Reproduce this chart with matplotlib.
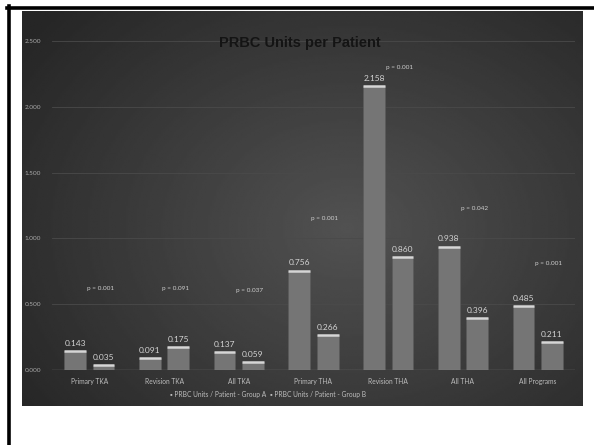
import numpy as np
import matplotlib.pyplot as plt
from matplotlib.lines import Line2D

categories = ['Primary TKA', 'Revision TKA', 'All TKA', 'Primary THA',
              'Revision THA', 'All THA', 'All Programs']
group_a = [0.143, 0.091, 0.137, 0.756, 2.158, 0.938, 0.485]
group_b = [0.035, 0.175, 0.059, 0.266, 0.860, 0.396, 0.211]
p_values = ['p = 0.001', 'p = 0.091', 'p = 0.037', 'p = 0.001',
            'p = 0.001', 'p = 0.042', 'p = 0.001']
# height (in data units) where each p label sits
p_heights = [0.62, 0.62, 0.605, 1.15, 2.295, 1.225, 0.81]
y_ticks = [0.0, 0.5, 1.0, 1.5, 2.0, 2.5]

W, H = 594, 445
fig = plt.figure(figsize=(W / 100, H / 100), dpi=100)
fig.patch.set_facecolor('white')


def px(x0, y0, x1, y1):
    # pixel box -> figure fraction rect
    return [x0 / W, 1 - y1 / H, (x1 - x0) / W, (y1 - y0) / H]


# black frame lines (top and left)
fig.add_artist(Line2D([7 / W, 1], [1 - 7.5 / H] * 2, color='black', lw=2.6,
                      transform=fig.transFigure))
fig.add_artist(Line2D([8.5 / W] * 2, [0, 1 - 6 / H], color='black', lw=2.6,
                      transform=fig.transFigure))

# dark gradient panel
bg = fig.add_axes(px(22, 11, 583, 406))
yy, xx = np.mgrid[0:1:200j, 0:1:300j]
r = np.sqrt(((xx - 0.58) / 0.72) ** 2 + ((yy - 0.55) / 0.8) ** 2)
shade = 0.32 - 0.17 * np.clip(r, 0, 1)
bg.imshow(shade, cmap='gray', vmin=0, vmax=1, aspect='auto',
          extent=[0, 1, 0, 1], interpolation='bilinear')
bg.axis('off')

# main chart axes
ax = fig.add_axes(px(52, 41, 575, 370))
ax.patch.set_alpha(0)
ax.set_xlim(-0.5, 6.5)
ax.set_ylim(0, 2.5)

x = np.arange(len(categories))
w = 0.29
xa = x - 0.19
xb = x + 0.19

for yt in y_ticks[1:]:
    ax.axhline(yt, color='#4a4a4a', lw=0.6, zorder=0)
ax.axhline(0, color='#8a8a8a', lw=0.9, zorder=3)

for xs, vals in ((xa, group_a), (xb, group_b)):
    ax.bar(xs, vals, width=w, color='#757575', edgecolor='#5a5a5a',
           linewidth=0.4, zorder=2)
    ax.hlines(vals, xs - w / 2, xs + w / 2, color='#d6d6d6', lw=1.8, zorder=3)
    for xi, v in zip(xs, vals):
        ax.annotate(f'{v:.3f}', (xi, v), xytext=(0, 3),
                    textcoords='offset points', ha='center', va='bottom',
                    fontsize=6, color='#d4d4d4', family='Lato')

for xi, p, ph in zip(x, p_values, p_heights):
    ax.text(xi + 0.15, ph, p, ha='center', va='center', fontsize=4.6,
            color='#cfcfcf', family='Lato')

for s in ax.spines.values():
    s.set_visible(False)
ax.set_xticks(x)
ax.set_xticklabels(categories, fontsize=4.8, color='#bdbdbd', family='Lato')
ax.set_yticks(y_ticks)
ax.set_yticklabels([f'{t:.3f}' for t in y_ticks], fontsize=4.6,
                   color='#a8a8a8', family='Lato')
ax.tick_params(length=0, pad=6)
ax.tick_params(axis='y', pad=8)

fig.text(300 / W, 1 - 43 / H, 'PRBC Units per Patient', ha='center',
         va='center', fontsize=10.5, fontweight='bold', color='#141414',
         family='Liberation Sans')

# legend
fig.text(218 / W, 1 - 395 / H, '\u25aa PRBC Units / Patient - Group A',
         ha='center', va='center', fontsize=4.8, color='#bdbdbd',
         family=['Lato', 'DejaVu Sans'])
fig.text(318 / W, 1 - 395 / H, '\u25aa PRBC Units / Patient - Group B',
         ha='center', va='center', fontsize=4.8, color='#bdbdbd',
         family=['Lato', 'DejaVu Sans'])

fig.savefig('out.png', dpi=100)
